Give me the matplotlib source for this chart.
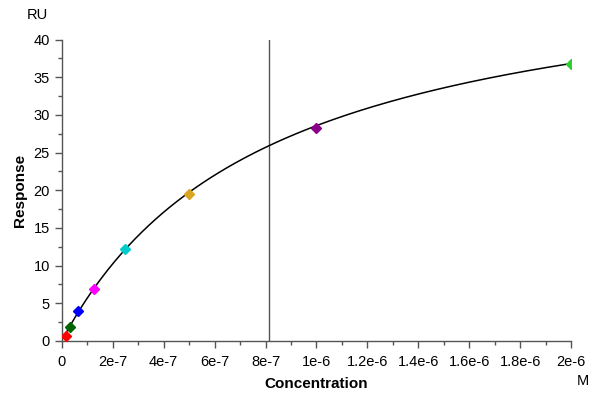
import numpy as np
import matplotlib
matplotlib.use('Agg')
import matplotlib.pyplot as plt
from matplotlib.ticker import MultipleLocator, FuncFormatter

plt.rcParams['font.family'] = ['Liberation Sans', 'DejaVu Sans']

# measured points (concentration in M, response in RU)
conc = [1.5625e-8, 3.125e-8, 6.25e-8, 1.25e-7, 2.5e-7, 5e-7, 1e-6, 2e-6]
resp = [0.7, 1.8, 4.0, 6.9, 12.2, 19.5, 28.3, 36.8]
colors = ['#ff0000', '#006400', '#0000ff', '#ff00ff', '#00cccc', '#daa520', '#8b008b', '#32cd32']

# steady state affinity fit
rmax = 51.8
kd = 8.13e-7

fig = plt.figure(figsize=(6, 4), dpi=100)
ax = fig.add_axes([0.103, 0.148, 0.849, 0.753])

xfit = np.linspace(conc[0], conc[-1], 300)
ax.plot(xfit, rmax * xfit / (kd + xfit), color='black', lw=1.1, zorder=2)
ax.axvline(kd, color='#555555', lw=1.0, zorder=1)

for x, y, c in zip(conc, resp, colors):
    ax.plot(x, y, marker='D', ms=5.5, color=c, mec=c, zorder=3)

ax.set_xlim(0, 2e-6)
ax.set_ylim(0, 40)
ax.xaxis.set_major_locator(MultipleLocator(2e-7))
ax.xaxis.set_minor_locator(MultipleLocator(1e-7))
ax.yaxis.set_major_locator(MultipleLocator(5))
ax.yaxis.set_minor_locator(MultipleLocator(2.5))


def xfmt(v, pos):
    if abs(v) < 1e-12:
        return '0'
    if v >= 9.99e-7:
        m = v / 1e-6
        s = ('%.1f' % m).rstrip('0').rstrip('.')
        return s + 'e-6'
    m = v / 1e-7
    return ('%.0f' % m) + 'e-7'


ax.xaxis.set_major_formatter(FuncFormatter(xfmt))

for side in ['top', 'right']:
    ax.spines[side].set_visible(False)
for side in ['left', 'bottom']:
    ax.spines[side].set_color('#555555')
    ax.spines[side].set_linewidth(1.0)

ax.tick_params(which='major', length=5, width=1, color='#555555', labelsize=10.5, direction='out')
ax.tick_params(which='minor', length=3, width=1, color='#555555', direction='out')
ax.tick_params(axis='x', pad=5)

ax.set_xlabel('Concentration', fontsize=11, fontweight='bold', labelpad=6)
ax.set_ylabel('Response', fontsize=11, fontweight='bold', labelpad=5)
fig.text(0.063, 0.962, 'RU', fontsize=10.5, ha='center', va='center')
fig.text(0.972, 0.047, 'M', fontsize=10.5, ha='center', va='center')

fig.savefig('out.png', dpi=100)
